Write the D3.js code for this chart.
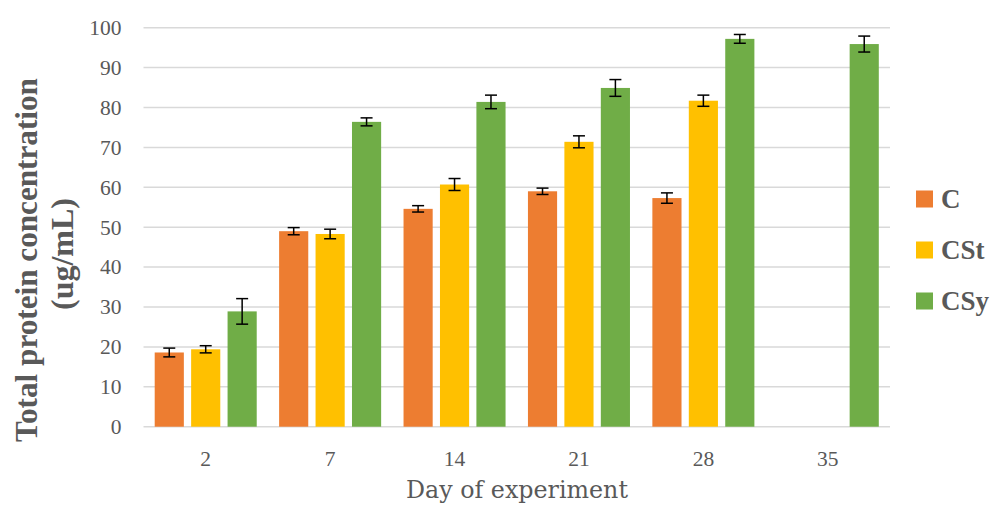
<!DOCTYPE html>
<html><head><meta charset="utf-8">
<script src="https://cdn.jsdelivr.net/npm/d3@7/dist/d3.min.js"></script>
<style>body{margin:0;background:#fff;} svg{display:block;}</style>
</head><body>
<svg id="chart" width="992" height="506"></svg>
<script>
const days = ["2","7","14","21","28","35"];
const seriesNames = ["C","CSt","CSy"];
const colors = ["#ED7D31","#FFC000","#70AD47"];
const valuesC   = [18.6, 49.0, 54.6, 59.0, 57.3, null];
const valuesCSt = [19.4, 48.3, 60.7, 71.4, 81.7, null];
const valuesCSy = [28.9, 76.4, 81.4, 84.9, 97.2, 95.9];
const errC   = [1.1, 0.9, 0.8, 0.8, 1.3, null];
const errCSt = [0.9, 1.2, 1.5, 1.5, 1.4, null];
const errCSy = [3.2, 1.0, 1.7, 2.1, 1.1, 2.0];
const yTicks = [0,10,20,30,40,50,60,70,80,90,100];

const allVals = [valuesC, valuesCSt, valuesCSy];
const allErr = [errC, errCSt, errCSy];
const font = "'Liberation Serif', 'DejaVu Serif', serif";
const tfont = "'DejaVu Serif', 'Liberation Serif', serif";
const textCol = "#595959";

const svg = d3.select("#chart");
const m = {left:143.5, right:890, top:27.7, bottom:426.7};
const x = d3.scaleBand().domain(days).range([m.left, m.right]).paddingInner(0.18).paddingOuter(0.09);
const xs = d3.scaleBand().domain(seriesNames).range([0, x.bandwidth()]).paddingInner(0.2);
const y = d3.scaleLinear().domain([0,100]).range([m.bottom, m.top]);

function fit(sel, target) {
  const fs = parseFloat(sel.attr("font-size"));
  const len = sel.node().getComputedTextLength();
  if (len > 0) sel.attr("font-size", fs * target / len);
}

// gridlines
svg.append("g").selectAll("line").data(yTicks).join("line")
  .attr("x1", m.left).attr("x2", m.right)
  .attr("y1", d=>y(d)).attr("y2", d=>y(d))
  .attr("stroke", "#d9d9d9").attr("stroke-width", 1.5);

// y axis labels
const yAxis = d3.axisLeft(y).tickValues(yTicks).tickSize(0).tickPadding(0);
const gy = svg.append("g").attr("transform", `translate(${m.left-22},0)`).call(yAxis);
gy.select(".domain").remove();
gy.selectAll("text").attr("font-family", font).attr("font-size", 21.5).attr("fill", textCol);

// x axis labels
const xAxis = d3.axisBottom(x).tickSize(0).tickPadding(0);
const gx = svg.append("g").attr("transform", `translate(0,${m.bottom+24})`).call(xAxis);
gx.select(".domain").remove();
gx.selectAll("text").attr("font-family", font).attr("font-size", 21.5).attr("fill", textCol);

// bars
seriesNames.forEach((s, si) => {
  const g = svg.append("g");
  const data = days.map((d,i)=>({day:d, v:allVals[si][i], e:allErr[si][i]})).filter(d=>d.v!=null);
  g.selectAll("rect").data(data).join("rect")
    .attr("x", d=>x(d.day)+xs(s))
    .attr("width", xs.bandwidth())
    .attr("y", d=>y(d.v))
    .attr("height", d=>y(0)-y(d.v))
    .attr("fill", colors[si]);
  const eg = svg.append("g").attr("stroke", "#000").attr("stroke-width", 1.5);
  data.forEach(d => {
    const cx = x(d.day)+xs(s)+xs.bandwidth()/2;
    eg.append("line").attr("x1",cx).attr("x2",cx).attr("y1",y(d.v+d.e)).attr("y2",y(d.v-d.e));
    eg.append("line").attr("x1",cx-6).attr("x2",cx+6).attr("y1",y(d.v+d.e)).attr("y2",y(d.v+d.e));
    eg.append("line").attr("x1",cx-6).attr("x2",cx+6).attr("y1",y(d.v-d.e)).attr("y2",y(d.v-d.e));
  });
});

// axis titles
const xt = svg.append("text").attr("x", 517).attr("y", 498)
  .attr("text-anchor","middle").attr("font-family", tfont).attr("font-size", 22)
  .attr("fill", textCol).text("Day of experiment");
fit(xt, 222);

const yt1 = svg.append("text").attr("transform", "rotate(-90)")
  .attr("x", -260).attr("y", 37)
  .attr("text-anchor","middle").attr("font-family", font).attr("font-size", 28)
  .attr("font-weight","bold").attr("fill", textCol).text("Total protein concentration");
fit(yt1, 364);
const yt2 = svg.append("text").attr("transform", "rotate(-90)")
  .attr("x", -254).attr("y", 73)
  .attr("text-anchor","middle").attr("font-family", font).attr("font-size", 28)
  .attr("font-weight","bold").attr("fill", textCol).text("(ug/mL)");
fit(yt2, 112);

// legend
const lg = svg.append("g");
const legY = [199, 250, 301];
seriesNames.forEach((s,i)=>{
  lg.append("rect").attr("x",916).attr("y",legY[i]-8.5).attr("width",17).attr("height",17).attr("fill",colors[i]);
  lg.append("text").attr("x",941).attr("y",legY[i]).attr("dy","0.35em")
    .attr("font-family", font).attr("font-size", 27).attr("font-weight","bold")
    .attr("fill", textCol).text(s);
});
</script>
</body></html>
